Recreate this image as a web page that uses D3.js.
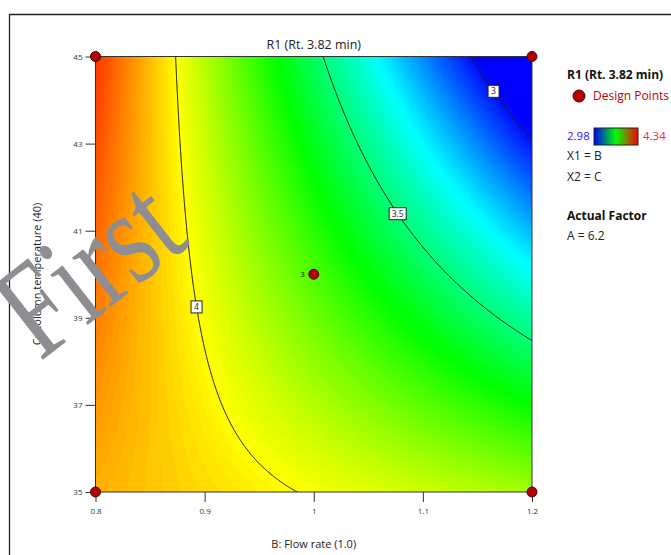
<!DOCTYPE html>
<html>
<head>
<meta charset="utf-8">
<script src="https://cdn.jsdelivr.net/npm/d3@7"></script>
<style>
    body { margin: 0; background: #fff; }
    svg text { font-family: "Open Sans", "Noto Sans", sans-serif; }
</style>
</head>
<body>
<div id="chart"></div>
<script>
// Modelo (factores codificados -1..1): R1 = b0 + b1*B + b2*C + b12*BC + b11*B^2 + b22*C^2
const modelTerms = ["Intercept", "B", "C", "BC", "B^2", "C^2"];
const modelCoef = [3.7615, -0.4269, -0.2299, -0.3131, 0, 0];

const flowRange = [0.8, 1.2];
const tempRange = [35, 45];
const xTicks = [0.8, 0.9, 1, 1.1, 1.2];
const yTicks = [35, 37, 39, 41, 43, 45];

const colorStops = [2.98, 3.32, 3.66, 4.0, 4.34];
const colorRange = ["#0000ff", "#00ffff", "#00ff00", "#ffff00", "#ff0000"];

const contourLevels = [3, 3.5, 4];
const labelLevels = [4, 3.5, 3];
const labelTemp = [39.25, 41.39, 44.2];

const designFlow = [0.8, 0.8, 1.2, 1.2, 1.0];
const designTemp = [35, 45, 35, 45, 40];
const designReps = [1, 1, 1, 1, 3];

const legendLines = ["X1 = B", "X2 = C"];
const factorLines = ["A = 6.2"];

function r1(b, c) {
    const x1 = (b - 1.0) / 0.2;
    const x2 = (c - 40) / 5;
    const k = modelCoef;
    return k[0] + k[1] * x1 + k[2] * x2 + k[3] * x1 * x2 + k[4] * x1 * x1 + k[5] * x2 * x2;
}

const W = 671, H = 555;
const svg = d3.select("#chart").append("svg")
    .attr("width", W)
    .attr("height", H);

// marco exterior
svg.append("path")
    .attr("d", `M9.5,${H} V14.5 H${W}`)
    .attr("fill", "none")
    .attr("stroke", "#222")
    .attr("stroke-width", 1.3);

const x = d3.scaleLinear().domain(flowRange).range([95.5, 532]);
const y = d3.scaleLinear().domain(tempRange).range([492, 56.5]);
const color = d3.scaleLinear().domain(colorStops).range(colorRange).clamp(true);

// rejilla para los contornos
const cs = 2;
const gx0 = x.range()[0] - 4, gy0 = y.range()[1] - 4;
const n = Math.ceil((x.range()[1] - x.range()[0] + 8) / cs);
const m = Math.ceil((y.range()[0] - y.range()[1] + 8) / cs);
const grid = new Array(n * m);
for (let j = 0; j < m; j++) {
    for (let i = 0; i < n; i++) {
        const b = x.invert(gx0 + (i + 0.5) * cs);
        const c = y.invert(gy0 + (j + 0.5) * cs);
        grid[i + j * n] = r1(b, c);
    }
}
const path = d3.geoPath(d3.geoIdentity().scale(cs).translate([gx0, gy0]));

svg.append("clipPath").attr("id", "plotClip")
    .append("rect")
    .attr("x", x.range()[0]).attr("y", y.range()[1])
    .attr("width", x.range()[1] - x.range()[0])
    .attr("height", y.range()[0] - y.range()[1]);

const plot = svg.append("g").attr("clip-path", "url(#plotClip)");

// relleno de color
const step = 0.01;
const bands = d3.range(2.6, 4.45, step);
plot.append("g").selectAll("path")
    .data(d3.contours().size([n, m]).thresholds(bands)(grid))
    .enter()
    .append("path")
    .attr("d", path)
    .attr("fill", d => color(d.value + step / 2))
    .attr("stroke", d => color(d.value + step / 2))
    .attr("stroke-width", 0.5);

// lineas de contorno
plot.append("g").selectAll("path")
    .data(d3.contours().size([n, m]).thresholds(contourLevels)(grid))
    .enter()
    .append("path")
    .attr("d", path)
    .attr("fill", "none")
    .attr("stroke", "#1a1a1a")
    .attr("stroke-width", 1);

// borde del grafico
svg.append("rect")
    .attr("x", x.range()[0]).attr("y", y.range()[1])
    .attr("width", x.range()[1] - x.range()[0])
    .attr("height", y.range()[0] - y.range()[1])
    .attr("fill", "none")
    .attr("stroke", "#333")
    .attr("stroke-width", 1);

// etiquetas de contorno
function solveFlow(level, c) {
    let lo = flowRange[0], hi = flowRange[1];
    for (let k = 0; k < 50; k++) {
        const mid = (lo + hi) / 2;
        if (r1(mid, c) > level) lo = mid; else hi = mid;
    }
    return (lo + hi) / 2;
}
const labels = svg.append("g").selectAll("g")
    .data(labelLevels.map((v, i) => ({ v, c: labelTemp[i], b: solveFlow(v, labelTemp[i]) })))
    .enter()
    .append("g")
    .attr("transform", d => `translate(${x(d.b)},${y(d.c)})`);
labels.append("rect")
    .attr("x", d => String(d.v).length > 1 ? -8.5 : -5.5)
    .attr("y", -6)
    .attr("width", d => String(d.v).length > 1 ? 17 : 11)
    .attr("height", 12)
    .attr("fill", "#fff")
    .attr("stroke", "#222")
    .attr("stroke-width", 1);
labels.append("text")
    .attr("text-anchor", "middle")
    .attr("dy", "0.35em")
    .style("font-size", "8.5px")
    .attr("fill", "#222")
    .text(d => d.v);

// ejes
const xAxis = svg.append("g")
    .attr("transform", `translate(0,${y.range()[0]})`)
    .call(d3.axisBottom(x).tickValues(xTicks).tickFormat(d3.format("")).tickSize(10).tickSizeOuter(0).tickPadding(6));
const yAxis = svg.append("g")
    .attr("transform", `translate(${x.range()[0]},0)`)
    .call(d3.axisLeft(y).tickValues(yTicks).tickSize(10).tickSizeOuter(0).tickPadding(3));
[xAxis, yAxis].forEach(a => {
    a.select(".domain").remove();
    a.selectAll("line").attr("stroke", "#333");
    a.selectAll("text").style("font-size", "8px").attr("fill", "#333")
        .style("font-family", "\"Open Sans\", sans-serif");
});

// puntos de diseno
const pts = designFlow.map((b, i) => ({ b, c: designTemp[i], r: designReps[i] }));
svg.append("g").selectAll("circle")
    .data(pts)
    .enter()
    .append("circle")
    .attr("cx", d => x(d.b))
    .attr("cy", d => y(d.c))
    .attr("r", 5)
    .attr("fill", "#b30000")
    .attr("stroke", "#4a0000")
    .attr("stroke-width", 1);
svg.append("g").selectAll("text")
    .data(pts.filter(d => d.r > 1))
    .enter()
    .append("text")
    .attr("x", d => x(d.b) - 9)
    .attr("y", d => y(d.c))
    .attr("dy", "0.35em")
    .attr("text-anchor", "end")
    .style("font-size", "8px")
    .attr("fill", "#222")
    .text(d => d.r);

// titulos
svg.append("text")
    .attr("x", (x.range()[0] + x.range()[1]) / 2)
    .attr("y", 49)
    .attr("text-anchor", "middle")
    .style("font-size", "12.5px")
    .attr("fill", "#222")
    .text("R1 (Rt. 3.82 min)");
svg.append("text")
    .attr("x", (x.range()[0] + x.range()[1]) / 2)
    .attr("y", 548)
    .attr("text-anchor", "middle")
    .style("font-size", "11px")
    .attr("fill", "#222")
    .text("B: Flow rate (1.0)");
svg.append("text")
    .attr("transform", "translate(41,274) rotate(-90)")
    .attr("text-anchor", "middle")
    .style("font-size", "11px")
    .attr("fill", "#222")
    .text("C: Column temperature (40)");

// leyenda
const lg = svg.append("g").attr("transform", "translate(567,0)");
lg.append("text").attr("x", 0).attr("y", 79)
    .style("font-size", "12px").style("font-weight", "bold").attr("fill", "#111")
    .text("R1 (Rt. 3.82 min)");
lg.append("circle").attr("cx", 12).attr("cy", 96).attr("r", 6)
    .attr("fill", "#b30000").attr("stroke", "#4a0000");
lg.append("text").attr("x", 26).attr("y", 100)
    .style("font-size", "12px").attr("fill", "#c00000")
    .text("Design Points");

const grad = svg.append("defs").append("linearGradient").attr("id", "legendGrad");
grad.selectAll("stop")
    .data([["0%", "#0000ff"], ["50%", "#00ff00"], ["100%", "#ff0000"]])
    .enter().append("stop")
    .attr("offset", d => d[0])
    .attr("stop-color", d => d[1]);
lg.append("text").attr("x", 0).attr("y", 140)
    .style("font-size", "11.5px").attr("fill", "#2323ff")
    .text(colorStops[0].toFixed(2));
lg.append("rect").attr("x", 27).attr("y", 128).attr("width", 44).attr("height", 17)
    .attr("fill", "url(#legendGrad)").attr("stroke", "#222");
lg.append("text").attr("x", 76).attr("y", 140)
    .style("font-size", "11.5px").attr("fill", "#ff2323")
    .text(colorStops[colorStops.length - 1].toFixed(2));
lg.selectAll("text.xl")
    .data(legendLines)
    .enter().append("text").attr("class", "xl")
    .attr("x", 0).attr("y", (d, i) => 160 + i * 21)
    .style("font-size", "12px").attr("fill", "#222")
    .text(d => d);
lg.append("text").attr("x", 0).attr("y", 220)
    .style("font-size", "12px").style("font-weight", "bold").attr("fill", "#111")
    .text("Actual Factor");
lg.selectAll("text.af")
    .data(factorLines)
    .enter().append("text").attr("class", "af")
    .attr("x", 0).attr("y", 240)
    .style("font-size", "12px").attr("fill", "#222")
    .text(d => d);

// marca de agua
svg.append("text")
    .attr("transform", "translate(40,362) rotate(-38)")
    .attr("textLength", 192)
    .attr("lengthAdjust", "spacingAndGlyphs")
    .style("font-family", "\"Liberation Serif\", \"DejaVu Serif\", serif")
    .style("font-size", "136px")
    .attr("fill", "#8e8e92")
    .text("First");
</script>
</body>
</html>
